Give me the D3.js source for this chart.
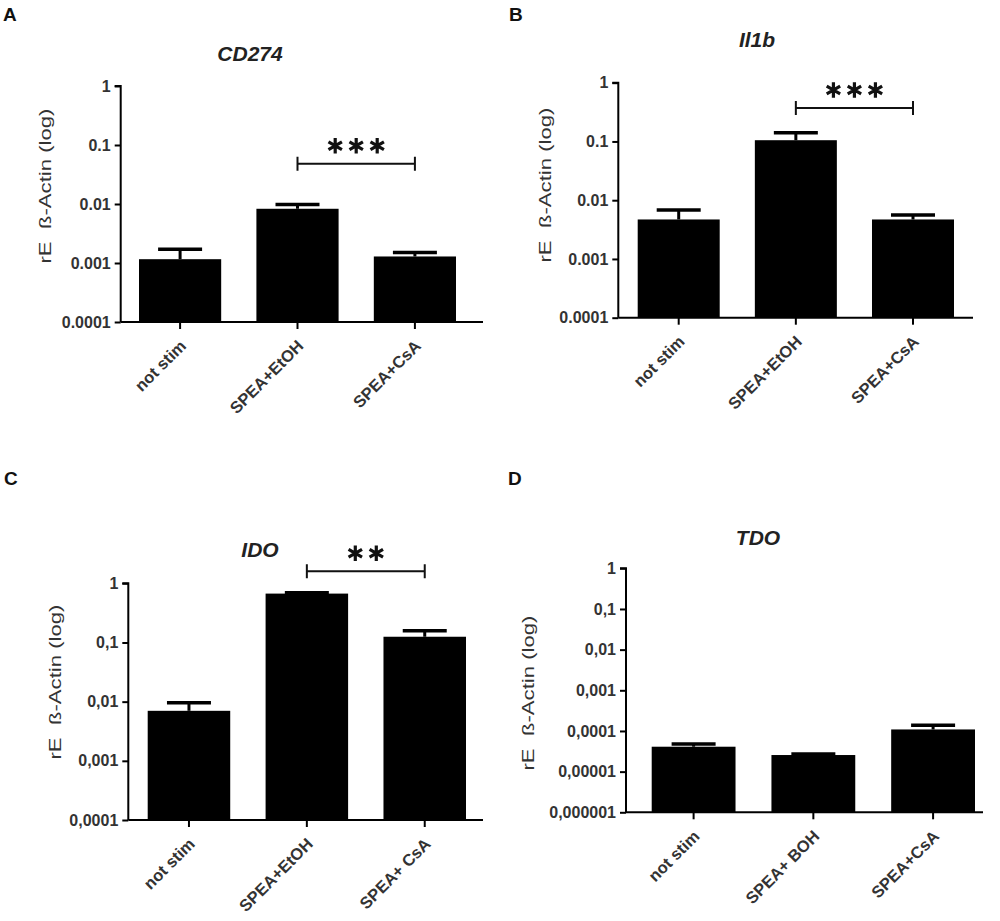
<!DOCTYPE html>
<html>
<head>
<meta charset="utf-8">
<script src="https://cdn.jsdelivr.net/npm/d3@7"></script>
<style>
  body { margin: 0; background: #fff; }
  svg { display: block; font-family: "Liberation Sans", Arial, sans-serif; }
</style>
</head>
<body>
<svg id="fig" width="1000" height="921"></svg>
<script>
// Data (means and upper SEM)
const groupsA = ["not stim", "SPEA+EtOH", "SPEA+CsA"];
const groupsB = ["not stim", "SPEA+EtOH", "SPEA+CsA"];
const groupsC = ["not stim", "SPEA+EtOH", "SPEA+ CsA"];
const groupsD = ["not stim", "SPEA+ BOH", "SPEA+CsA"];

const cd274Mean = [0.00116, 0.0083, 0.00129];
const cd274Sem  = [0.00055, 0.0015, 0.00021];
const il1bMean  = [0.0047, 0.105, 0.0047];
const il1bSem   = [0.0021, 0.036, 0.0009];
const idoMean   = [0.0070, 0.67, 0.125];
const idoSem    = [0.0026, 0.02, 0.033];
const tdoMean   = [0.000041, 0.0000256, 0.000109];
const tdoSem    = [0.000007, 0.0000015, 0.00003];

const ticksABC = [0.0001, 0.001, 0.01, 0.1, 1];
const tickLabelsAB = ["0.0001", "0.001", "0.01", "0.1", "1"];
const tickLabelsC = ["0,0001", "0,001", "0,01", "0,1", "1"];
const ticksD = [0.000001, 0.00001, 0.0001, 0.001, 0.01, 0.1, 1];
const tickLabelsD = ["0,000001", "0,00001", "0,0001", "0,001", "0,01", "0,1", "1"];

// significance brackets: [from group, to group, y value, stars]
const sigA = [1, 2, 0.048, 3];
const sigB = [1, 2, 0.37, 3];
const sigC = [1, 2, 1.6, 2];

const yLabel = "rE\u00a0\u00a0ß-Actin (log)";

const svg = d3.select("#fig");

function panel(p) {
  const g = svg.append("g");
  const y = d3.scaleLog().domain(p.domain).range([p.yBot, p.yTop]);
  const x = d3.scaleBand().domain(p.groups).range([p.barL, p.barR]).paddingInner(0.3);

  // letter + title
  g.append("text").attr("x", p.letter[0]).attr("y", p.letter[1])
    .attr("font-size", 19).attr("font-weight", "bold").attr("fill", "#111").text(p.id);
  g.append("text").attr("x", p.title[0]).attr("y", p.title[1])
    .attr("text-anchor", "middle").attr("font-size", 21).attr("font-weight", "bold")
    .attr("font-style", "italic").attr("fill", "#222").text(p.name);

  // bars
  const rows = p.groups.map((k, i) => ({ k, m: p.mean[i], s: p.sem[i] }));
  g.selectAll("rect.bar").data(rows).enter().append("rect")
    .attr("x", d => x(d.k)).attr("width", x.bandwidth())
    .attr("y", d => y(d.m)).attr("height", d => p.yBot - y(d.m))
    .attr("fill", "#000");

  // error bars (upper only)
  const half = 22;
  g.selectAll("line.whisk").data(rows).enter().append("line")
    .attr("x1", d => x(d.k) + x.bandwidth() / 2).attr("x2", d => x(d.k) + x.bandwidth() / 2)
    .attr("y1", d => y(d.m)).attr("y2", d => y(d.m + d.s))
    .attr("stroke", "#000").attr("stroke-width", 3);
  g.selectAll("line.cap").data(rows).enter().append("line")
    .attr("x1", d => x(d.k) + x.bandwidth() / 2 - half).attr("x2", d => x(d.k) + x.bandwidth() / 2 + half)
    .attr("y1", d => y(d.m + d.s)).attr("y2", d => y(d.m + d.s))
    .attr("stroke", "#000").attr("stroke-width", 3.5);

  // y axis
  const yAxis = d3.axisLeft(y).tickValues(p.ticks).tickSize(6).tickPadding(4)
    .tickFormat((d, i) => p.tickLabels[i]);
  const ya = g.append("g").attr("transform", `translate(${p.axisX},0)`).call(yAxis);
  ya.select(".domain").attr("d", `M-6,${p.yTop}H0V${p.yBot}`).attr("stroke-width", 2);
  ya.selectAll(".tick line").attr("stroke-width", 2);
  ya.selectAll(".tick text").attr("font-size", 16).attr("font-weight", "bold")
    .attr("fill", "#333").attr("font-family", "Liberation Sans, Arial, sans-serif");

  // x axis
  const xAxis = d3.axisBottom(x).tickSize(7).tickFormat("");
  const xa = g.append("g").attr("transform", `translate(0,${p.yBot})`).call(xAxis);
  xa.select(".domain").attr("d", `M${p.axisX},0H${p.xEnd}`).attr("stroke-width", 2);
  xa.selectAll(".tick line").attr("stroke-width", 2);

  g.selectAll("text.xl").data(p.groups).enter().append("text")
    .attr("transform", d => `translate(${x(d) + x.bandwidth() / 2 + 7},${p.yBot + 25}) rotate(-45)`)
    .attr("text-anchor", "end").attr("font-size", 16.5).attr("font-weight", "bold")
    .attr("fill", "#333").text(d => d);

  // y label
  g.append("text")
    .attr("transform", `translate(${p.ylab[0]},${p.ylab[1]}) rotate(-90)`)
    .attr("text-anchor", "middle").attr("font-size", 17).attr("fill", "#333")
    .attr("textLength", 155).attr("lengthAdjust", "spacingAndGlyphs")
    .text(yLabel);

  // significance bracket
  if (p.sig) {
    const [a, b, v, n] = p.sig;
    const x1 = x(p.groups[a]) + x.bandwidth() / 2;
    const x2 = x(p.groups[b]) + x.bandwidth() / 2;
    const yy = y(v);
    g.append("path")
      .attr("d", `M${x1},${yy - 7}V${yy + 7}M${x1},${yy}H${x2}M${x2},${yy - 7}V${yy + 7}`)
      .attr("stroke", "#111").attr("stroke-width", 2).attr("fill", "none");
    const cx = (x1 + x2) / 2;
    const star = d3.symbol(d3.symbolAsterisk, 170);
    d3.range(n).forEach(i => {
      g.append("path").attr("d", star())
        .attr("transform", `translate(${cx + (i - (n - 1) / 2) * 21},${yy - 18})`)
        .attr("stroke", "#111").attr("stroke-width", 3.2).attr("fill", "none");
    });
  }
}

panel({ id: "A", name: "CD274", groups: groupsA, mean: cd274Mean, sem: cd274Sem,
  domain: [0.0001, 1], ticks: ticksABC, tickLabels: tickLabelsAB, sig: sigA,
  axisX: 120.7, yTop: 86, yBot: 322, xEnd: 483, barL: 139, barR: 456,
  letter: [3, 21], title: [250, 61], ylab: [51, 186] });

panel({ id: "B", name: "Il1b", groups: groupsB, mean: il1bMean, sem: il1bSem,
  domain: [0.0001, 1], ticks: ticksABC, tickLabels: tickLabelsAB, sig: sigB,
  axisX: 618.3, yTop: 82.7, yBot: 317.7, xEnd: 973, barL: 637.7, barR: 954,
  letter: [509, 21], title: [757, 47], ylab: [551, 185] });

panel({ id: "C", name: "IDO", groups: groupsC, mean: idoMean, sem: idoSem,
  domain: [0.0001, 1], ticks: ticksABC, tickLabels: tickLabelsC, sig: sigC,
  axisX: 128.3, yTop: 583.3, yBot: 820, xEnd: 483, barL: 147.7, barR: 466,
  letter: [4, 485], title: [260, 557], ylab: [61, 682] });

panel({ id: "D", name: "TDO", groups: groupsD, mean: tdoMean, sem: tdoSem,
  domain: [0.000001, 1], ticks: ticksD, tickLabels: tickLabelsD, sig: null,
  axisX: 626, yTop: 568.3, yBot: 812.3, xEnd: 983, barL: 651.7, barR: 975,
  letter: [508, 485], title: [758, 545], ylab: [534, 693] });
</script>
</body>
</html>
